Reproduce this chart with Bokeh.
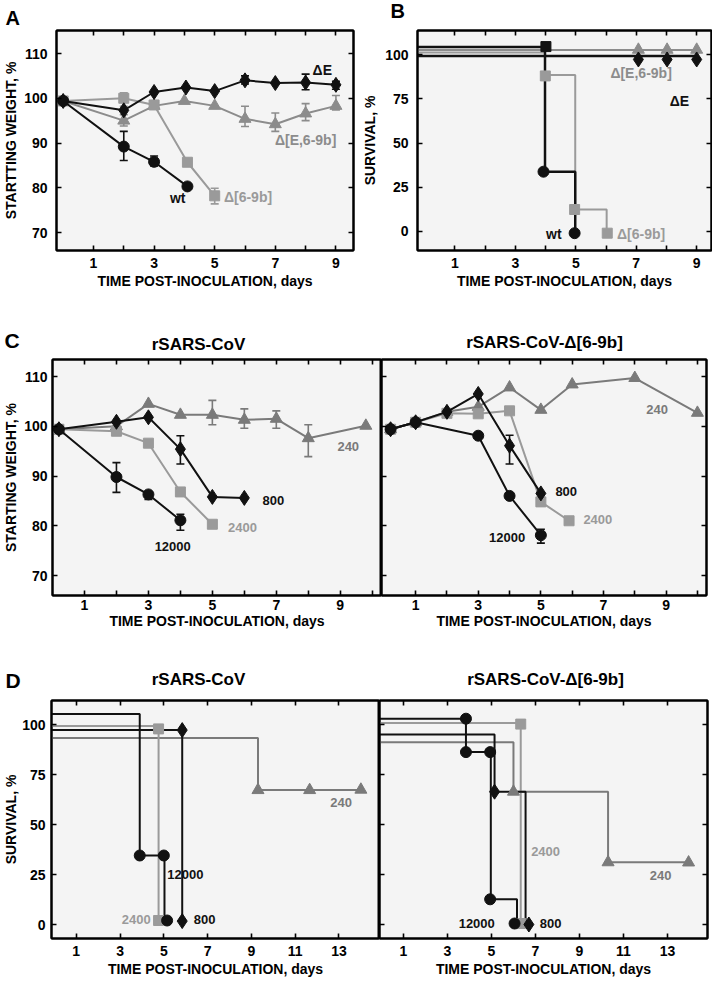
from bokeh.plotting import figure
from bokeh.models import Range1d, FixedTicker, LinearAxis, Label, Whisker, TeeHead, ColumnDataSource
from bokeh.layouts import column, row
from bokeh.embed import file_html
from bokeh.resources import INLINE

FONT = "Liberation Sans"
BLACK = "#111111"
GRAY = "#9a9a9a"    # light gray series
MGRAY = "#8c8c8c"   # mid gray (triangles A/B)
DGRAY = "#7a7a7a"   # darker gray (240)
BG = "#f4f4f4"

# ---------------- Panel A : weight ----------------
A_wt_day = [0, 2, 3, 4.1]
A_wt_w = [99.4, 89.2, 85.8, 80.3]
A_dE_day = [0, 2, 3, 4.05, 5, 6, 7, 8, 9]
A_dE_w = [99.4, 97.3, 101.4, 102.4, 101.6, 104.0, 103.4, 103.5, 103.0]
A_dE69_day = [0, 2, 3, 4, 5, 6, 7, 8, 9]
A_dE69_w = [99.4, 95.0, 98.3, 99.4, 98.3, 95.4, 94.2, 96.6, 98.3]
A_d69_day = [0, 2, 3, 4.1, 5]
A_d69_w = [99.4, 100.0, 98.5, 85.7, 78.2]
A_wt_err = ([2, 3], [86.1, 84.9], [92.6, 87.1])
A_dE_err = ([6, 8, 9], [103.2, 101.9, 102.0], [105.0, 105.4, 103.8])
A_dE69_err = ([2, 6, 7, 8, 9], [93.8, 93.7, 92.6, 95.0, 97.4], [96.3, 98.2, 96.7, 98.8, 100.6])
A_d69_err = ([2, 5], [98.2, 76.4], [101.2, 79.9])
A_lab_text = ["\u0394E", "\u0394[E,6-9b]", "wt", "\u0394[6-9b]"]
A_lab_x = [8.55, 8.0, 3.78, 6.1]
A_lab_y = [106.4, 90.6, 77.6, 78.0]

# ---------------- Panel B : survival ----------------
B_wt_step_t = [-0.5, 3.98, 4.98]
B_wt_step_s = [104.4, 33.8, -1.0]
B_wt_mark_t = [3.93, 4.96]
B_wt_mark_s = [33.8, -1.0]
B_wt_sq_t = [4.01]
B_wt_sq_s = [104.6]
B_d69_step_t = [-0.5, 3.98, 4.98, 6.02]
B_d69_step_s = [101.2, 88.5, 12.4, -1.0]
B_d69_mark_t = [3.99, 4.96, 6.04]
B_d69_mark_s = [88.0, 12.4, -1.0]
B_dE_t = [-0.5, 9.0]
B_dE_s = [99.2, 99.2]
B_dE_mark_t = [7.07, 8.02, 9.0]
B_dE_mark_s = [97.3, 97.3, 97.3]
B_dE69_t = [-0.5, 9.0]
B_dE69_s = [102.6, 102.6]
B_dE69_mark_t = [7.07, 8.02, 9.0]
B_dE69_mark_s = [102.8, 102.8, 102.8]
B_lab_text = ["\u0394[E,6-9b]", "\u0394E", "wt", "\u0394[6-9b]"]
B_lab_x = [7.16, 8.43, 4.27, 7.16]
B_lab_y = [89.5, 73.9, -1.5, -1.5]

# ---------------- Panel C : weight by dose ----------------
Cl_12000_day = [0.2, 2, 3, 4]
Cl_12000_w = [99.4, 89.8, 86.3, 81.1]
Cl_800_day = [0.2, 2, 3, 4, 5, 6]
Cl_800_w = [99.4, 100.9, 101.8, 95.4, 85.8, 85.6]
Cl_2400_day = [0.2, 2, 3, 4, 5]
Cl_2400_w = [99.4, 99.0, 96.6, 86.8, 80.3]
Cl_240_day = [0.2, 2, 3, 4, 5, 6, 7, 8, 9.8]
Cl_240_w = [99.4, 100.0, 104.5, 102.3, 102.3, 101.3, 101.5, 97.6, 100.1]
Cl_12000_err = ([2, 3, 4], [86.7, 85.3, 79.1], [92.7, 86.8, 82.3])
Cl_800_err = ([4], [92.4], [98.1])
Cl_240_err = ([5, 6, 7, 8], [100.3, 99.6, 99.6, 93.9], [105.2, 103.5, 103.1, 100.3])
Cl_lab_text = ["240", "800", "2400", "12000"]
Cl_lab_x = [9.25, 6.91, 5.94, 3.76]
Cl_lab_y = [95.9, 85.0, 79.6, 75.8]

Cr_12000_day = [0.2, 1, 3, 4, 5]
Cr_12000_w = [99.4, 100.8, 98.1, 86.0, 78.1]
Cr_800_day = [0.2, 1, 2, 3, 4, 5]
Cr_800_w = [99.4, 100.8, 102.9, 106.5, 96.1, 86.5]
Cr_2400_day = [0.2, 1, 2, 3, 4, 5, 5.9]
Cr_2400_w = [99.4, 100.8, 102.6, 102.5, 103.1, 84.8, 81.0]
Cr_240_day = [0.2, 1, 2, 3, 4, 5, 6, 8, 10]
Cr_240_w = [99.4, 100.8, 102.9, 103.9, 107.8, 103.3, 108.4, 109.7, 102.7]
Cr_12000_err = ([5], [76.5], [79.3])
Cr_800_err = ([4], [92.4], [98.2])
Cr_lab_text = ["240", "800", "2400", "12000"]
Cr_lab_x = [8.71, 5.81, 6.82, 3.92]
Cr_lab_y = [103.3, 86.8, 81.3, 77.7]

# ---------------- Panel D : survival by dose ----------------
Dl_12000_step_t = [-0.5, 3.9, 5.03]
Dl_12000_step_s = [105.3, 34.5, 2.0]
Dl_12000_mark_t = [3.9, 5.0, 5.15]
Dl_12000_mark_s = [34.5, 34.5, 2.0]
Dl_2400_step_t = [-0.5, 4.76]
Dl_2400_step_s = [99.2, 2.0]
Dl_2400_mark_t = [4.76, 4.76]
Dl_2400_mark_s = [97.8, 2.0]
Dl_800_step_t = [-0.5, 5.84]
Dl_800_step_s = [97.3, 1.7]
Dl_800_mark_t = [5.84, 5.84]
Dl_800_mark_s = [97.2, 1.7]
Dl_240_step_t = [-0.5, 9.3, 14.0]
Dl_240_step_s = [93.3, 67.2, 67.4]
Dl_240_mark_t = [9.3, 11.66, 14.0]
Dl_240_mark_s = [67.2, 67.2, 67.4]
Dl_lab_text = ["240", "12000", "2400", "800"]
Dl_lab_x = [13.1, 5.98, 3.74, 6.86]
Dl_lab_y = [60.8, 25.0, 2.5, 2.5]

Dr_12000_step_t = [-0.5, 3.84, 4.97, 6.16]
Dr_12000_step_s = [102.9, 86.2, 12.6, 0.5]
Dr_12000_mark_t = [3.84, 3.84, 4.94, 4.94, 6.05]
Dr_12000_mark_s = [102.9, 86.2, 86.2, 12.6, 0.5]
Dr_2400_step_t = [-0.5, 6.33]
Dr_2400_step_s = [100.8, 0.5]
Dr_2400_mark_t = [6.33, 6.33]
Dr_2400_mark_s = [100.2, 0.5]
Dr_800_step_t = [-0.5, 5.14, 6.55]
Dr_800_step_s = [95.0, 66.4, 0.0]
Dr_800_mark_t = [5.14, 6.7]
Dr_800_mark_s = [66.4, 0.0]
Dr_240_step_t = [-0.5, 6.0, 10.3, 14.0]
Dr_240_step_s = [91.1, 66.4, 31.1, 31.0]
Dr_240_mark_t = [6.0, 10.3, 13.96]
Dr_240_mark_s = [66.4, 31.1, 31.0]
Dr_lab_text = ["2400", "240", "12000", "800"]
Dr_lab_x = [7.46, 12.69, 4.33, 7.69]
Dr_lab_y = [36.5, 24.7, 0.5, 0.5]

XLABEL = "TIME POST-INOCULATION, days"
TITLE_L = "rSARS-CoV"
TITLE_R = "rSARS-CoV-\u0394[6-9b]"

X9 = [1, 3, 5, 7, 9]
X9m = [2, 4, 6, 8]
X10m = [2, 4, 6, 8, 10]
X13 = [1, 3, 5, 7, 9, 11, 13]
WY = [70, 80, 90, 100, 110]
SY = [0, 25, 50, 75, 100]


def base_axis_style(ax):
    ax.axis_line_color = "black"
    ax.axis_line_width = 2
    ax.major_tick_in = 5
    ax.major_tick_out = 0
    ax.minor_tick_in = 5
    ax.minor_tick_out = 0
    ax.major_tick_line_color = "black"
    ax.minor_tick_line_color = "black"
    ax.major_tick_line_width = 1.6
    ax.minor_tick_line_width = 1.6


def labeled_axis(ticks, minor, label, standoff, label_standoff):
    ax = LinearAxis(ticker=FixedTicker(ticks=ticks, minor_ticks=minor), axis_label=label)
    base_axis_style(ax)
    ax.axis_label_text_font = FONT
    ax.axis_label_text_font_style = "bold"
    ax.axis_label_text_font_size = "14px"
    ax.axis_label_text_color = "black"
    ax.axis_label_standoff = label_standoff
    ax.major_label_text_font = FONT
    ax.major_label_text_font_style = "bold"
    ax.major_label_text_font_size = "14px"
    ax.major_label_text_color = "black"
    ax.major_label_standoff = standoff
    return ax


def tick_only_axis(ticks):
    # every tick as a minor tick: tick marks, no label text
    ax = LinearAxis(ticker=FixedTicker(ticks=[], minor_ticks=list(ticks)))
    base_axis_style(ax)
    ax.major_label_standoff = 0
    ax.axis_label_standoff = 0
    return ax


def make_panel(borders, fsize, xr, yr, xmaj, xmin, ymaj, ylabel,
               xstand, xlstand, ystand, ylstand, right_axis=True):
    l, t, r, b = borders
    fw, fh = fsize
    p = figure(frame_width=fw, frame_height=fh, x_range=Range1d(*xr), y_range=Range1d(*yr),
               x_axis_location=None, y_axis_location=None,
               output_backend="svg", toolbar_location=None,
               min_border_left=l, min_border_top=t, min_border_right=r, min_border_bottom=b,
               background_fill_color=BG, border_fill_color="white",
               outline_line_color="black", outline_line_width=2)
    p.grid.visible = False
    p.add_layout(labeled_axis(xmaj, xmin, XLABEL, xstand, xlstand), "below")
    p.add_layout(tick_only_axis(sorted(xmaj + xmin)), "above")
    if ylabel is not None:
        p.add_layout(labeled_axis(ymaj, [], ylabel, ystand, ylstand), "left")
    else:
        p.add_layout(tick_only_axis(ymaj), "left")
    if right_axis:
        p.add_layout(tick_only_axis(ymaj), "right")
    p._frame = (l, t, fw, fh)
    p._xr = xr
    p._yr = yr
    return p


def head_text(p, fx, fy, text, size, align):
    # heading text placed in the top border (panel letter / panel title)
    l, t, fw, fh = p._frame
    x0, x1 = p._xr
    y0, y1 = p._yr
    x = x0 + (fx - l) / fw * (x1 - x0)
    y = y1 - (fy - t) / fh * (y1 - y0)
    p.add_layout(Label(x=x, y=y, text=text, text_font=FONT, text_font_style="bold",
                       text_font_size=size, text_color="black", text_align=align,
                       text_baseline="middle"), "above")


def series(p, x, y, marker, color, size, lw=2):
    p.line(x, y, line_color=color, line_width=lw)
    p.scatter(x, y, marker=marker, size=size, fill_color=color, line_color=color)


def errs(p, err, color):
    d, lo, hi = err
    src = ColumnDataSource(dict(x=d, lo=lo, hi=hi))
    p.add_layout(Whisker(source=src, base="x", lower="lo", upper="hi", dimension="height",
                         line_color=color, line_width=1.6,
                         upper_head=TeeHead(size=8, line_color=color, line_width=1.6),
                         lower_head=TeeHead(size=8, line_color=color, line_width=1.6)))


def steps(p, t, s, color, lw=2):
    p.step(t, s, mode="after", line_color=color, line_width=lw)


def marks(p, t, s, marker, color, size):
    p.scatter(t, s, marker=marker, size=size, fill_color=color, line_color=color)


def labels(p, texts, xs, ys, colors, size="14px"):
    for tx, x, y, c in zip(texts, xs, ys, colors):
        p.add_layout(Label(x=x, y=y, text=tx, text_font=FONT, text_font_style="bold",
                           text_font_size=size, text_color=c, text_align="center",
                           text_baseline="middle"))


# ---------- Row 1 ----------
pA = make_panel((51, 26, 6, 54), (297, 220), (-0.22, 9.58), (65.98, 115.14), X9, X9m, WY,
                "STARTTING WEIGHT, %", 7, 2, 9, 2)
errs(pA, A_dE69_err, MGRAY)
errs(pA, A_d69_err, GRAY)
errs(pA, A_dE_err, BLACK)
errs(pA, A_wt_err, BLACK)
series(pA, A_dE69_day, A_dE69_w, "triangle", MGRAY, 12)
series(pA, A_d69_day, A_d69_w, "square", GRAY, 10)
series(pA, A_dE_day, A_dE_w, "diamond", BLACK, 15)
series(pA, A_wt_day, A_wt_w, "circle", BLACK, 11)
labels(pA, A_lab_text, A_lab_x, A_lab_y, [BLACK, MGRAY, BLACK, GRAY])
head_text(pA, 0, 13, "A", "20px", "left")

pB = make_panel((55, 30, 1, 51), (294, 220), (-0.24, 9.49), (-10.8, 113.7), X9, X9m, SY,
                "SURVIVAL, %", 7, 2, 9, 4)
steps(pB, B_dE69_t, B_dE69_s, MGRAY)
steps(pB, B_d69_step_t, B_d69_step_s, GRAY)
steps(pB, B_dE_t, B_dE_s, BLACK, 2.5)
steps(pB, B_wt_step_t, B_wt_step_s, BLACK, 2.5)
marks(pB, B_dE69_mark_t, B_dE69_mark_s, "triangle", MGRAY, 12)
marks(pB, B_dE_mark_t, B_dE_mark_s, "diamond", BLACK, 15)
marks(pB, B_d69_mark_t, B_d69_mark_s, "square", GRAY, 10)
marks(pB, B_wt_sq_t, B_wt_sq_s, "square", BLACK, 10)
marks(pB, B_wt_mark_t, B_wt_mark_s, "circle", BLACK, 11)
labels(pB, B_lab_text, B_lab_x, B_lab_y, [MGRAY, BLACK, BLACK, GRAY])
head_text(pB, 28, 10, "B", "20px", "left")

# ---------- Row 2 ----------
pCl = make_panel((48, 58, 0, 42), (329, 236), (0.0, 10.29), (65.98, 113.42), X9, X10m, WY,
                 "STARTING WEIGHT, %", 4, 0, 5, 2, right_axis=False)
errs(pCl, Cl_240_err, DGRAY)
errs(pCl, Cl_800_err, BLACK)
errs(pCl, Cl_12000_err, BLACK)
series(pCl, Cl_240_day, Cl_240_w, "triangle", DGRAY, 12)
series(pCl, Cl_2400_day, Cl_2400_w, "square", GRAY, 10)
series(pCl, Cl_800_day, Cl_800_w, "diamond", BLACK, 15)
series(pCl, Cl_12000_day, Cl_12000_w, "circle", BLACK, 11)
labels(pCl, Cl_lab_text, Cl_lab_x, Cl_lab_y, [DGRAY, BLACK, GRAY, BLACK], "13px")
head_text(pCl, 0, 38.5, "C", "21px", "left")
head_text(pCl, 194, 43, TITLE_L, "17px", "center")

pCr = make_panel((0, 58, 2, 42), (325, 236), (-0.09, 10.29), (65.98, 113.42), X9, X10m, WY,
                 None, 4, 0, 0, 0)
errs(pCr, Cr_800_err, BLACK)
errs(pCr, Cr_12000_err, BLACK)
series(pCr, Cr_240_day, Cr_240_w, "triangle", DGRAY, 12)
series(pCr, Cr_2400_day, Cr_2400_w, "square", GRAY, 10)
series(pCr, Cr_800_day, Cr_800_w, "diamond", BLACK, 15)
series(pCr, Cr_12000_day, Cr_12000_w, "circle", BLACK, 11)
labels(pCr, Cr_lab_text, Cr_lab_x, Cr_lab_y, [DGRAY, BLACK, GRAY, BLACK], "13px")
head_text(pCr, 163, 41, TITLE_R, "17px", "center")

# ---------- Row 3 ----------
pDl = make_panel((46, 63, 0, 41), (328, 238), (-0.13, 14.85), (-7.0, 112.0), X13, [], SY,
                 "SURVIVAL, %", 7, 2, 6, 0, right_axis=False)
steps(pDl, Dl_240_step_t, Dl_240_step_s, DGRAY)
steps(pDl, Dl_2400_step_t, Dl_2400_step_s, GRAY)
steps(pDl, Dl_800_step_t, Dl_800_step_s, BLACK)
steps(pDl, Dl_12000_step_t, Dl_12000_step_s, BLACK)
marks(pDl, Dl_240_mark_t, Dl_240_mark_s, "triangle", DGRAY, 12)
marks(pDl, Dl_2400_mark_t, Dl_2400_mark_s, "square", GRAY, 10)
marks(pDl, Dl_800_mark_t, Dl_800_mark_s, "diamond", BLACK, 15)
marks(pDl, Dl_12000_mark_t, Dl_12000_mark_s, "circle", BLACK, 11)
labels(pDl, Dl_lab_text, Dl_lab_x, Dl_lab_y, [DGRAY, BLACK, GRAY, BLACK], "13px")
head_text(pDl, 0, 43, "D", "21px", "left")
head_text(pDl, 193, 42, TITLE_L, "17px", "center")

pDr = make_panel((0, 63, 2, 41), (328, 238), (-0.09, 14.82), (-7.0, 112.0), X13, [], SY,
                 None, 7, 2, 0, 0)
steps(pDr, Dr_240_step_t, Dr_240_step_s, DGRAY)
steps(pDr, Dr_2400_step_t, Dr_2400_step_s, GRAY)
steps(pDr, Dr_800_step_t, Dr_800_step_s, BLACK)
steps(pDr, Dr_12000_step_t, Dr_12000_step_s, BLACK)
marks(pDr, Dr_240_mark_t, Dr_240_mark_s, "triangle", DGRAY, 12)
marks(pDr, Dr_2400_mark_t, Dr_2400_mark_s, "square", GRAY, 10)
marks(pDr, Dr_800_mark_t, Dr_800_mark_s, "diamond", BLACK, 15)
marks(pDr, Dr_12000_mark_t, Dr_12000_mark_s, "circle", BLACK, 11)
labels(pDr, Dr_lab_text, Dr_lab_x, Dr_lab_y, [GRAY, DGRAY, BLACK, BLACK], "13px")
head_text(pDr, 166, 42, TITLE_R, "17px", "center")

layout = column(row(pA, pB, spacing=0), row(pCl, pCr, spacing=0), row(pDl, pDr, spacing=0),
                spacing=0)

open("out.html", "w").write(file_html(layout, INLINE))
